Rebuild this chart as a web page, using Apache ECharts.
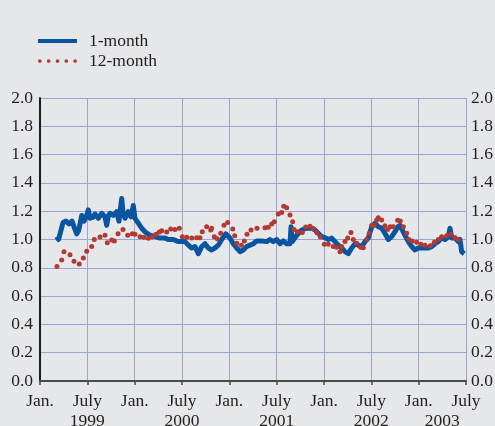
<!DOCTYPE html>
<html>
<head>
<meta charset="utf-8">
<script src="https://cdn.jsdelivr.net/npm/echarts@6/dist/echarts.min.js"></script>
<style>
html,body{margin:0;padding:0;background:#e6e7e9;}
#chart{width:495px;height:426px;}
</style>
</head>
<body>
<div id="chart"></div>
<script>
// x values are months since January 1999
const monthTicks = [0, 6, 12, 18, 24, 30, 36, 42, 48, 54];
const monthTickLabels = ['Jan.', 'July', 'Jan.', 'July', 'Jan.', 'July', 'Jan.', 'July', 'Jan.', 'July'];
const yearTicks = [6, 18, 30, 42, 51];
const yearTickLabels = ['1999', '2000', '2001', '2002', '2003'];
const yTicks = [0, 0.2, 0.4, 0.6, 0.8, 1.0, 1.2, 1.4, 1.6, 1.8, 2.0];

const oneMonthX = [2.12,2.35,2.54,2.92,3.30,3.68,4.06,4.37,4.65,4.88,5.07,5.29,5.58,5.92,6.12,6.34,6.55,6.78,6.97,7.39,7.82,8.24,8.45,8.68,8.87,9.29,9.72,10.01,10.20,10.36,10.52,10.77,11.19,11.54,11.83,12.04,12.46,12.89,13.31,13.94,14.58,15.21,15.84,16.26,16.90,17.53,18.38,18.80,19.23,19.65,20.07,20.50,20.92,21.33,21.76,22.18,22.60,23.03,23.54,24.08,24.50,24.93,25.35,25.77,26.20,26.62,27.04,27.47,28.10,28.74,29.15,29.57,30.00,30.42,30.84,31.27,31.69,31.82,31.98,32.54,33.17,33.81,34.44,34.86,35.28,35.71,36.13,36.55,36.98,37.39,37.81,38.24,38.66,39.08,39.51,39.93,40.35,40.78,41.20,41.62,42.05,42.46,42.88,43.31,43.73,44.15,44.58,45.00,45.34,45.63,45.93,46.27,46.69,47.12,47.53,47.95,48.38,48.80,49.22,49.65,50.07,50.49,50.92,51.34,51.76,51.97,52.19,52.61,53.02,53.24,53.45,53.78];
const oneMonthY = [1.02,1.00,1.04,1.12,1.13,1.11,1.13,1.08,1.04,1.06,1.11,1.17,1.13,1.17,1.21,1.15,1.14,1.16,1.18,1.15,1.185,1.16,1.10,1.17,1.185,1.17,1.197,1.13,1.22,1.29,1.19,1.15,1.197,1.16,1.24,1.15,1.115,1.08,1.055,1.03,1.02,1.01,1.01,1.00,1.00,0.985,0.985,0.96,0.94,0.95,0.90,0.95,0.97,0.94,0.926,0.94,0.96,1.00,1.04,1.01,0.97,0.94,0.914,0.926,0.95,0.96,0.97,0.99,0.99,0.985,1.00,0.985,1.00,0.97,0.99,0.97,0.97,1.09,0.985,1.03,1.067,1.08,1.08,1.067,1.044,1.02,1.013,1.00,1.01,0.985,0.96,0.94,0.914,0.90,0.94,0.97,0.96,0.95,0.985,1.01,1.09,1.115,1.09,1.08,1.044,1.00,1.02,1.055,1.09,1.10,1.067,1.03,0.985,0.95,0.926,0.94,0.94,0.94,0.94,0.95,0.97,0.985,1.013,1.00,1.02,1.08,1.01,1.01,0.985,1.00,0.914,0.90];

const twelveMonthX = [2.15,2.75,3.04,3.80,4.31,4.98,5.49,5.92,6.55,6.88,7.61,8.24,8.53,9.09,9.42,9.89,10.52,11.12,11.70,12.04,12.68,13.18,13.73,14.24,14.70,15.12,15.43,16.06,16.57,17.11,17.66,18.04,18.60,19.23,19.86,20.28,20.57,21.13,21.64,21.76,22.09,22.47,22.91,23.32,23.79,24.43,24.68,24.93,25.52,25.90,26.24,26.75,27.51,28.52,28.94,29.37,29.70,30.21,30.64,30.89,31.27,31.69,32.03,32.20,32.62,33.25,33.68,34.22,34.69,35.11,35.53,36.04,36.54,37.18,37.61,38.03,38.24,38.66,39.00,39.42,39.72,40.14,40.65,40.98,41.41,41.74,42.05,42.37,42.68,42.88,43.31,43.73,44.07,44.40,44.78,45.34,45.67,46.05,46.48,46.77,47.19,47.75,48.30,48.80,49.47,49.98,50.49,50.92,51.55,52.10,52.61,53.02];
const twelveMonthY = [0.81,0.855,0.914,0.893,0.846,0.827,0.869,0.917,0.95,1.00,1.017,1.03,0.977,0.996,0.99,1.04,1.07,1.03,1.04,1.037,1.02,1.016,1.008,1.017,1.037,1.053,1.062,1.053,1.074,1.07,1.079,1.02,1.016,1.01,1.013,1.013,1.055,1.09,1.067,1.08,1.02,1.005,1.044,1.10,1.12,1.074,1.027,0.973,0.96,0.99,1.037,1.067,1.08,1.083,1.086,1.11,1.126,1.18,1.19,1.235,1.225,1.173,1.126,1.07,1.055,1.05,1.088,1.093,1.076,1.048,1.017,0.966,0.966,0.95,0.945,0.914,0.95,0.985,1.01,1.05,1.00,0.973,0.945,0.942,1.00,1.044,1.10,1.10,1.138,1.154,1.138,1.098,1.07,1.09,1.09,1.136,1.13,1.09,1.044,1.00,0.99,0.98,0.966,0.96,0.956,0.98,1.00,1.02,1.027,1.037,1.013,1.00];

const BLUE = '#0a55a0';
const RED = '#b33a33';
const TEXT = '#231f20';
const GRID = '#9aa5d6';
const FONT = "'Liberation Serif', 'Times New Roman', serif";
const FS = 17.5;

const oneMonthData = oneMonthX.map((x, i) => [x, oneMonthY[i]]);
const twelveMonthData = twelveMonthX.map((x, i) => [x, twelveMonthY[i]]);

// five dots icon for legend
const dotsIcon = 'path://' + [2, 11, 20, 29, 38].map(c =>
  `M${c - 1.9},2 a1.9,1.9 0 1,0 3.8,0 a1.9,1.9 0 1,0 -3.8,0 Z`).join(' ');

const chart = echarts.init(document.getElementById('chart'), null, {renderer: 'canvas'});
chart.setOption({
  backgroundColor: '#e6e7e9',
  animation: false,
  textStyle: {fontFamily: FONT},
  legend: {
    orient: 'vertical',
    left: 38,
    top: 32,
    padding: 0,
    itemWidth: 39,
    itemHeight: 4,
    itemGap: 2,
    textStyle: {fontFamily: FONT, fontSize: FS, color: TEXT, lineHeight: 18, padding: [0, 0, 0, 7]},
    data: [
      {name: '1-month', icon: 'rect', itemStyle: {color: BLUE}},
      {name: '12-month', icon: dotsIcon, itemStyle: {color: RED}}
    ]
  },
  grid: {left: 40, right: 29, top: 98, bottom: 45, containLabel: false, outerBoundsMode: 'none'},
  xAxis: [
    {
      type: 'value', min: 0, max: 54, interval: 6, position: 'bottom',
      axisLine: {show: true, lineStyle: {color: '#4a4a4a', width: 2}},
      axisTick: {show: true, inside: false, length: 4, lineStyle: {color: '#4a4a4a', width: 1.5}},
      splitLine: {show: true, lineStyle: {color: GRID, width: 1}},
      axisLabel: {
        margin: 11, fontFamily: FONT, fontSize: FS, color: TEXT,
        formatter: v => { const i = monthTicks.indexOf(Math.round(v)); return i >= 0 ? monthTickLabels[i] : ''; }
      }
    },
    {
      type: 'value', min: 0, max: 54, interval: 3, position: 'bottom',
      axisLine: {show: false}, axisTick: {show: false}, splitLine: {show: false},
      axisLabel: {
        margin: 31, fontFamily: FONT, fontSize: FS, color: TEXT, showMinLabel: true, showMaxLabel: true,
        formatter: v => { const i = yearTicks.indexOf(Math.round(v)); return i >= 0 ? yearTickLabels[i] : ''; }
      }
    }
  ],
  yAxis: [
    {
      type: 'value', min: 0, max: 2, interval: 0.2, position: 'left',
      axisLine: {show: true, lineStyle: {color: '#111', width: 1.5}},
      axisTick: {show: false},
      splitLine: {show: true, lineStyle: {color: GRID, width: 1}},
      axisLabel: {margin: 7, fontFamily: FONT, fontSize: FS, color: TEXT, formatter: v => v.toFixed(1)}
    },
    {
      type: 'value', min: 0, max: 2, interval: 0.2, position: 'right',
      axisLine: {show: true, lineStyle: {color: '#111', width: 1.5}},
      axisTick: {show: false},
      splitLine: {show: false},
      axisLabel: {margin: 5, fontFamily: FONT, fontSize: FS, color: TEXT, formatter: v => v.toFixed(1)}
    }
  ],
  series: [
    {
      name: '1-month', type: 'line', xAxisIndex: 0, yAxisIndex: 0,
      data: oneMonthData, showSymbol: false, smooth: false,
      lineStyle: {color: BLUE, width: 5, join: 'round'}, itemStyle: {color: BLUE}, z: 2
    },
    {
      name: '12-month', type: 'scatter', xAxisIndex: 0, yAxisIndex: 0,
      data: twelveMonthData, symbol: 'circle', symbolSize: 5,
      itemStyle: {color: RED, opacity: 1}, z: 3
    }
  ]
});
</script>
</body>
</html>
